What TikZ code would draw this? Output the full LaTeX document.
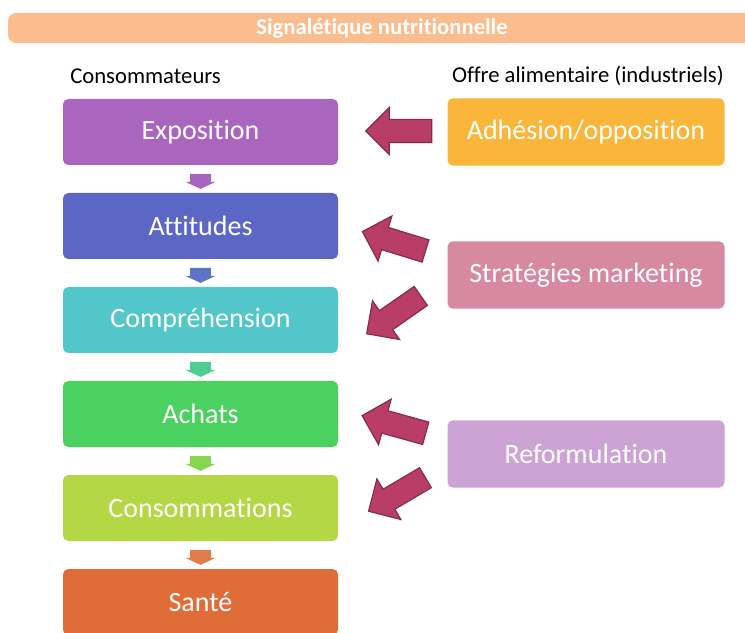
\documentclass[tikz,border=0pt]{standalone}
\usepackage{fontspec}
\setmainfont{Carlito}[Ligatures={CommonOff,ContextualOff}]
\usetikzlibrary{shapes.arrows}
\definecolor{bannerC}{HTML}{FBBD8E}
\definecolor{expoC}{HTML}{AA66BF}
\definecolor{attitC}{HTML}{5C66C5}
\definecolor{comprC}{HTML}{53C6C9}
\definecolor{achatC}{HTML}{4BD160}
\definecolor{consoC}{HTML}{B4D845}
\definecolor{santeC}{HTML}{E06D37}
\definecolor{adhesC}{HTML}{FAB63B}
\definecolor{stratC}{HTML}{D889A2}
\definecolor{reformC}{HTML}{CDA2D5}
\definecolor{bigC}{HTML}{B83D67}
\definecolor{bigD}{HTML}{8A2A4C}
\tikzset{
  box/.style={
    rectangle,
    rounded corners=4pt,
    text=white,
    font=\fontsize{21}{25}\selectfont,
    minimum width=206.25pt,
    minimum height=49.5pt,
    inner sep=0pt
  },
  side box/.style={
    box,
    minimum width=207.75pt,
    minimum height=50.5pt
  },
  header/.style={
    font=\fontsize{17}{20}\selectfont,
    inner sep=0pt
  },
  down arrow/.style={
    single arrow,
    rotate=-90,
    inner xsep=0pt,
    inner ysep=7.5pt,
    minimum height=11.25pt,
    single arrow head extend=3.75pt,
    single arrow tip angle=130
  },
  big arrow/.style={
    single arrow,
    sloped,
    allow upside down,
    fill=bigC,
    draw=bigD,
    line width=0.9pt,
    inner xsep=0pt,
    inner ysep=8.25pt,
    minimum height=49.5pt,
    single arrow head extend=9pt
  }
}
\begin{document}
\begin{tikzpicture}[x=0.75pt, y=0.75pt]

  \useasboundingbox (0,0) rectangle (745,632);
  \clip (0,0) rectangle (745,632);

  %% ---- bandeau du haut ----
  \node[rectangle, rounded corners=6pt, fill=bannerC, text=white,
        minimum width=561pt, minimum height=22.5pt, inner sep=0pt,
        font=\bfseries\fontsize{17}{20}\selectfont]
        (bandeau) at (382,604) {Signalétique nutritionnelle};

  %% ---- titres des colonnes ----
  \node[header, anchor=west] (consom) at (70,556) {Consommateurs};
  \node[header, anchor=east] (offre)  at (724,556) {Offre alimentaire (industriels)};

  %% ---- colonne consommateurs ----
  \node[box, fill=expoC]  (expo)  at (200.5,500) {Exposition};
  \node[box, fill=attitC] (attit) at (200.5,406) {Attitudes};
  \node[box, fill=comprC] (compr) at (200.5,312) {Compréhension};
  \node[box, fill=achatC] (achat) at (200.5,218) {Achats};
  \node[box, fill=consoC] (conso) at (200.5,124) {Consommations};
  \node[box, fill=santeC] (sante) at (200.5,30)  {Santé};

  % petites flèches entre les étapes
  \path (expo.south)  -- node[down arrow, fill=expoC!95!attitC] (f1) {} (attit.north);
  \path (attit.south) -- node[down arrow, fill=attitC!85!comprC] (f2) {} (compr.north);
  \path (compr.south) -- node[down arrow, fill=comprC!45!achatC] (f3) {} (achat.north);
  \path (achat.south) -- node[down arrow, fill=achatC!45!consoC] (f4) {} (conso.north);
  \path (conso.south) -- node[down arrow, fill=santeC!90!white]  (f5) {} (sante.north);

  %% ---- colonne offre alimentaire ----
  \node[side box, fill=adhesC]  (adhes)  at (586,500) {Adhésion/opposition};
  \node[side box, fill=stratC]  (strat)  at (586,357) {Stratégies marketing};
  \node[side box, fill=reformC] (reform) at (586,178) {Reformulation};

  %% ---- grosses flèches (offre -> consommateurs) ----
  \coordinate (t1) at (437,501);  \coordinate (h1) at (372,501);
  \coordinate (t2) at (432,379);  \coordinate (h2) at (367,399);
  \coordinate (t3) at (425,339);  \coordinate (h3) at (372,302);
  \coordinate (t4) at (432,197);  \coordinate (h4) at (367,215);
  \coordinate (t5) at (430,157);  \coordinate (h5) at (374,124);

  \path (t1) -- node[big arrow] (g1) {} (h1);
  \path (t2) -- node[big arrow] (g2) {} (h2);
  \path (t3) -- node[big arrow] (g3) {} (h3);
  \path (t4) -- node[big arrow] (g4) {} (h4);
  \path (t5) -- node[big arrow] (g5) {} (h5);

\end{tikzpicture}
\end{document}
